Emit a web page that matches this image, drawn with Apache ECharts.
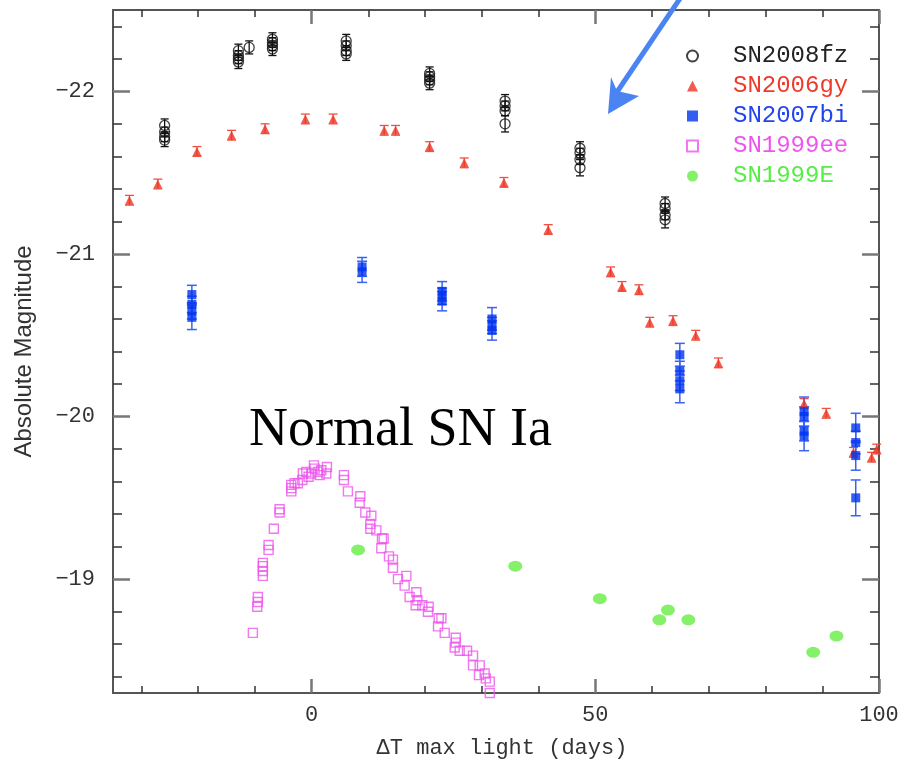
<!DOCTYPE html>
<html><head><meta charset="utf-8">
<script src="https://cdn.jsdelivr.net/npm/echarts@6/dist/echarts.min.js"></script>
<style>html,body{margin:0;padding:0;background:#fff}#c{width:903px;height:761px}</style>
</head><body><div id="c"></div>
<script>
// ---- axis ticks ----
const xTicksMajor = [0, 50, 100];
const xTicksMinor = [-30, -20, -10, 10, 20, 30, 40, 60, 70, 80, 90];
const yTicksMajor = [-22, -21, -20, -19];
const yTicksMinor = [-22.4, -22.2, -21.8, -21.6, -21.4, -21.2, -20.8, -20.6, -20.4, -20.2, -19.8, -19.6, -19.4, -19.2, -18.8, -18.6, -18.4];

// ---- SN2008fz (black open circles, with errors) ----
const fzDay = [-25.9,-25.9,-25.9,-25.9, -12.9,-12.9,-12.9,-12.9,-11.0, -6.9,-6.9,-6.9,-6.9, 6.1,6.1,6.1,6.1, 20.8,20.8,20.8,20.8, 34.1,34.1,34.1,34.1, 47.3,47.3,47.3,47.3, 62.3,62.3,62.3,62.3];
const fzMag = [-21.79,-21.75,-21.72,-21.70, -22.25,-22.22,-22.20,-22.18,-22.27, -22.32,-22.30,-22.28,-22.26, -22.31,-22.28,-22.25,-22.23, -22.11,-22.09,-22.07,-22.05, -21.94,-21.91,-21.88,-21.80, -21.65,-21.62,-21.58,-21.53, -21.31,-21.28,-21.24,-21.21];
const fzErr = [0.04,0.03,0.03,0.04, 0.04,0.03,0.03,0.04,0.04, 0.04,0.03,0.03,0.04, 0.04,0.03,0.03,0.04, 0.04,0.03,0.03,0.04, 0.04,0.03,0.03,0.05, 0.04,0.03,0.03,0.05, 0.04,0.03,0.03,0.05];

// ---- SN2006gy (red triangles, with errors) ----
const gyDay = [-32.1,-27.1,-20.2,-14.1,-8.2,-1.1,3.8,12.8,14.8,20.8,26.9,33.9,41.7,52.7,54.7,57.7,59.6,63.7,67.7,71.7,86.8,90.7,95.5,98.7,99.6];
const gyMag = [-21.33,-21.43,-21.63,-21.73,-21.77,-21.83,-21.83,-21.76,-21.76,-21.66,-21.56,-21.44,-21.15,-20.89,-20.80,-20.78,-20.58,-20.59,-20.50,-20.33,-20.08,-20.02,-19.78,-19.75,-19.80];
const gyErr = [0.03,0.03,0.03,0.03,0.03,0.03,0.03,0.03,0.03,0.03,0.03,0.03,0.03,0.03,0.03,0.03,0.03,0.03,0.03,0.03,0.03,0.03,0.03,0.03,0.03];

// ---- SN2007bi (blue filled squares, with errors) ----
const biDay = [-21.1,-21.1,-21.1,-21.1, 8.9,8.9, 23.0,23.0,23.0, 31.8,31.8,31.8, 64.9,64.9,64.9,64.9, 86.8,86.8,86.8,86.8, 95.9,95.9,95.9,95.9];
const biMag = [-20.75,-20.69,-20.65,-20.61, -20.92,-20.89, -20.77,-20.74,-20.71, -20.60,-20.56,-20.53, -20.38,-20.28,-20.22,-20.17, -20.03,-20.00,-19.91,-19.88, -19.93,-19.84,-19.76,-19.50];
const biErr = [0.057,0.05,0.05,0.075, 0.058,0.065, 0.06,0.05,0.06, 0.07,0.05,0.06, 0.07,0.06,0.06,0.085, 0.09,0.06,0.06,0.09, 0.09,0.07,0.09,0.11];

// ---- SN1999ee (magenta open squares) ----
const eeDay = [-10.35,-9.58,-9.47,-9.47,-8.59,-8.59,-8.59,-8.59,-7.58,-7.58,-6.65,-5.64,-5.64,-3.58,-3.58,-3.58,-3.0,-2.42,-1.64,-1.53,-0.93,-0.53,-0.05,0.41,0.53,1.11,1.41,1.71,2.70,2.59,5.7,5.7,6.4,8.59,8.47,9.47,10.53,10.35,10.35,11.41,12.4,12.7,12.29,13.64,14.34,14.34,15.22,16.7,16.4,17.28,18.46,18.64,18.34,19.52,20.63,20.51,22.4,22.87,22.28,23.46,25.4,25.4,25.22,26.1,27.4,28.45,28.45,29.63,29.5,30.5,30.7,31.4,31.4];
const eeMag = [-18.67,-18.83,-18.86,-18.89,-19.02,-19.05,-19.08,-19.10,-19.18,-19.21,-19.31,-19.41,-19.43,-19.54,-19.56,-19.58,-19.59,-19.59,-19.61,-19.65,-19.66,-19.63,-19.65,-19.70,-19.68,-19.66,-19.64,-19.67,-19.69,-19.65,-19.61,-19.64,-19.54,-19.51,-19.47,-19.41,-19.39,-19.34,-19.31,-19.30,-19.25,-19.25,-19.19,-19.14,-19.12,-19.07,-19.00,-19.02,-18.96,-18.89,-18.92,-18.87,-18.84,-18.84,-18.83,-18.80,-18.76,-18.76,-18.71,-18.67,-18.64,-18.61,-18.58,-18.56,-18.56,-18.53,-18.47,-18.47,-18.41,-18.42,-18.39,-18.37,-18.30];

// ---- SN1999E (green filled ellipses) ----
const eDay = [8.2, 35.9, 50.8, 61.3, 62.8, 66.4, 88.4, 92.5];
const eMag = [-19.18, -19.08, -18.88, -18.75, -18.81, -18.75, -18.55, -18.65];

// ---- helpers ----
const zip2 = (a, b) => a.map((v, i) => [v, b[i]]);
const zip3 = (a, b, c) => a.map((v, i) => [v, b[i], c[i]]);

function errRender(capHalf, color, width) {
  return function (params, api) {
    const x = api.value(0), y = api.value(1), e = api.value(2);
    const p1 = api.coord([x, y - e]), p2 = api.coord([x, y + e]);
    const style = { stroke: color, lineWidth: width };
    return { type: 'group', children: [
      { type: 'line', shape: { x1: p1[0], y1: p1[1], x2: p2[0], y2: p2[1] }, style: style },
      { type: 'line', shape: { x1: p1[0] - capHalf, y1: p1[1], x2: p1[0] + capHalf, y2: p1[1] }, style: style },
      { type: 'line', shape: { x1: p2[0] - capHalf, y1: p2[1], x2: p2[0] + capHalf, y2: p2[1] }, style: style }
    ]};
  };
}

const MONO = '"Liberation Mono", "DejaVu Sans Mono", monospace';
const frameLine = { show: true, onZero: false, lineStyle: { color: '#555', width: 2 } };
const noLine = { show: false, onZero: false };
const majTick = { color: '#777', width: 2.5 };
const minTick = { color: '#333', width: 1.5 };
const X_MIN = -35, X_MAX = 100, Y_MIN = -22.5, Y_MAX = -18.3;

function xAx(pos, major, withLabel) {
  const o = {
    type: 'value', position: pos, min: X_MIN, max: X_MAX,
    axisLine: major ? frameLine : noLine,
    axisTick: { show: true, inside: true, length: major ? 14 : 7,
      customValues: major ? xTicksMajor : xTicksMinor, lineStyle: major ? majTick : minTick },
    axisLabel: withLabel ? { show: true, customValues: xTicksMajor, margin: 11,
      fontFamily: MONO, fontSize: 22, color: '#333' } : { show: false },
    splitLine: { show: false }
  };
  if (withLabel) {
    o.name = 'ΔT max light (days)';
    o.nameLocation = 'middle';
    o.nameGap = 44;
    o.nameTextStyle = { fontFamily: MONO, fontSize: 22, color: '#333', padding: [0, 0, 0, 12] };
  }
  return o;
}
function yAx(pos, major, withLabel) {
  const o = {
    type: 'value', position: pos, min: Y_MIN, max: Y_MAX, inverse: true,
    axisLine: major ? frameLine : noLine,
    axisTick: { show: true, inside: true, length: major ? 17 : 9,
      customValues: major ? yTicksMajor : yTicksMinor, lineStyle: major ? majTick : minTick },
    axisLabel: withLabel ? { show: true, customValues: yTicksMajor, margin: 18,
      fontFamily: MONO, fontSize: 22, color: '#333',
      formatter: v => '\u2212' + Math.abs(v) } : { show: false },
    splitLine: { show: false }
  };
  if (withLabel) {
    o.name = 'Absolute Magnitude';
    o.nameLocation = 'middle';
    o.nameGap = 77;
    o.nameTextStyle = { fontFamily: '"Liberation Sans Narrow", "Liberation Sans", sans-serif', fontSize: 24, color: '#333' };
  }
  return o;
}

const chart = echarts.init(document.getElementById('c'), null, { renderer: 'canvas' });
chart.setOption({
  animation: false,
  backgroundColor: '#fff',
  grid: { left: 113, right: 24, top: 10, bottom: 68, containLabel: false, outerBoundsMode: 'none' },
  xAxis: [xAx('bottom', true, true), xAx('bottom', false, false), xAx('top', true, false), xAx('top', false, false)],
  yAxis: [yAx('left', true, true), yAx('left', false, false), yAx('right', true, false), yAx('right', false, false)],
  legend: {
    orient: 'vertical', left: 686, top: 44, padding: 0, itemWidth: 11, itemHeight: 11, itemGap: 6,
    selectedMode: false,
    textStyle: { fontFamily: MONO, fontSize: 24, lineHeight: 20, padding: [0, 0, 0, 30] },
    data: [
      { name: 'SN2008fz', icon: 'circle', textStyle: { color: '#222' } },
      { name: 'SN2006gy', icon: 'triangle', textStyle: { color: '#ee3a2a' } },
      { name: 'SN2007bi', icon: 'rect', textStyle: { color: '#2244ee' } },
      { name: 'SN1999ee', icon: 'rect', textStyle: { color: '#ee55ee' } },
      { name: 'SN1999E', icon: 'circle', textStyle: { color: '#55ee44' } }
    ]
  },
  series: [
    { name: 'SN2008fz', type: 'scatter', data: zip2(fzDay, fzMag), symbol: 'circle', symbolSize: 10, z: 5,
      itemStyle: { color: 'rgba(255,255,255,0)', borderColor: '#111', borderWidth: 1.3 } },
    { name: 'SN2006gy', type: 'scatter', data: zip2(gyDay, gyMag), symbol: 'triangle', symbolSize: 9, z: 5,
      itemStyle: { color: '#ee3322' } },
    { name: 'SN2007bi', type: 'scatter', data: zip2(biDay, biMag), symbol: 'rect', symbolSize: 9, z: 5,
      itemStyle: { color: '#0033ee' } },
    { name: 'SN1999ee', type: 'scatter', data: zip2(eeDay, eeMag), symbol: 'rect', symbolSize: 9, z: 5,
      itemStyle: { color: 'rgba(255,255,255,0)', borderColor: '#ee55ee', borderWidth: 1.4 } },
    { name: 'SN1999E', type: 'scatter', data: zip2(eDay, eMag), symbol: 'circle', symbolSize: [14, 11], z: 5,
      itemStyle: { color: '#66ee44' } },
    { name: 'fzErr', type: 'custom', data: zip3(fzDay, fzMag, fzErr), renderItem: errRender(4, '#111', 1.3), z: 4 },
    { name: 'gyErr', type: 'custom', data: zip3(gyDay, gyMag, gyErr), renderItem: errRender(4.5, '#f05040', 1.3), z: 4 },
    { name: 'biErr', type: 'custom', data: zip3(biDay, biMag, biErr), renderItem: errRender(5, '#3a62f5', 1.5), z: 4 }
  ],
  graphic: [
    { type: 'text', left: 249, top: 404, z: 10,
      style: { text: 'Normal SN Ia', font: '54px "Liberation Serif", "Times New Roman", serif', fill: '#000' } },
    { type: 'line', z: 10, shape: { x1: 681, y1: -3, x2: 617, y2: 92 }, style: { stroke: '#4a84f2', lineWidth: 5 } },
    { type: 'polygon', z: 10, shape: { points: [[608, 114], [611, 77], [617, 91], [639, 96]] }, style: { fill: '#4a84f2' } }
  ]
});
</script>
</body></html>
